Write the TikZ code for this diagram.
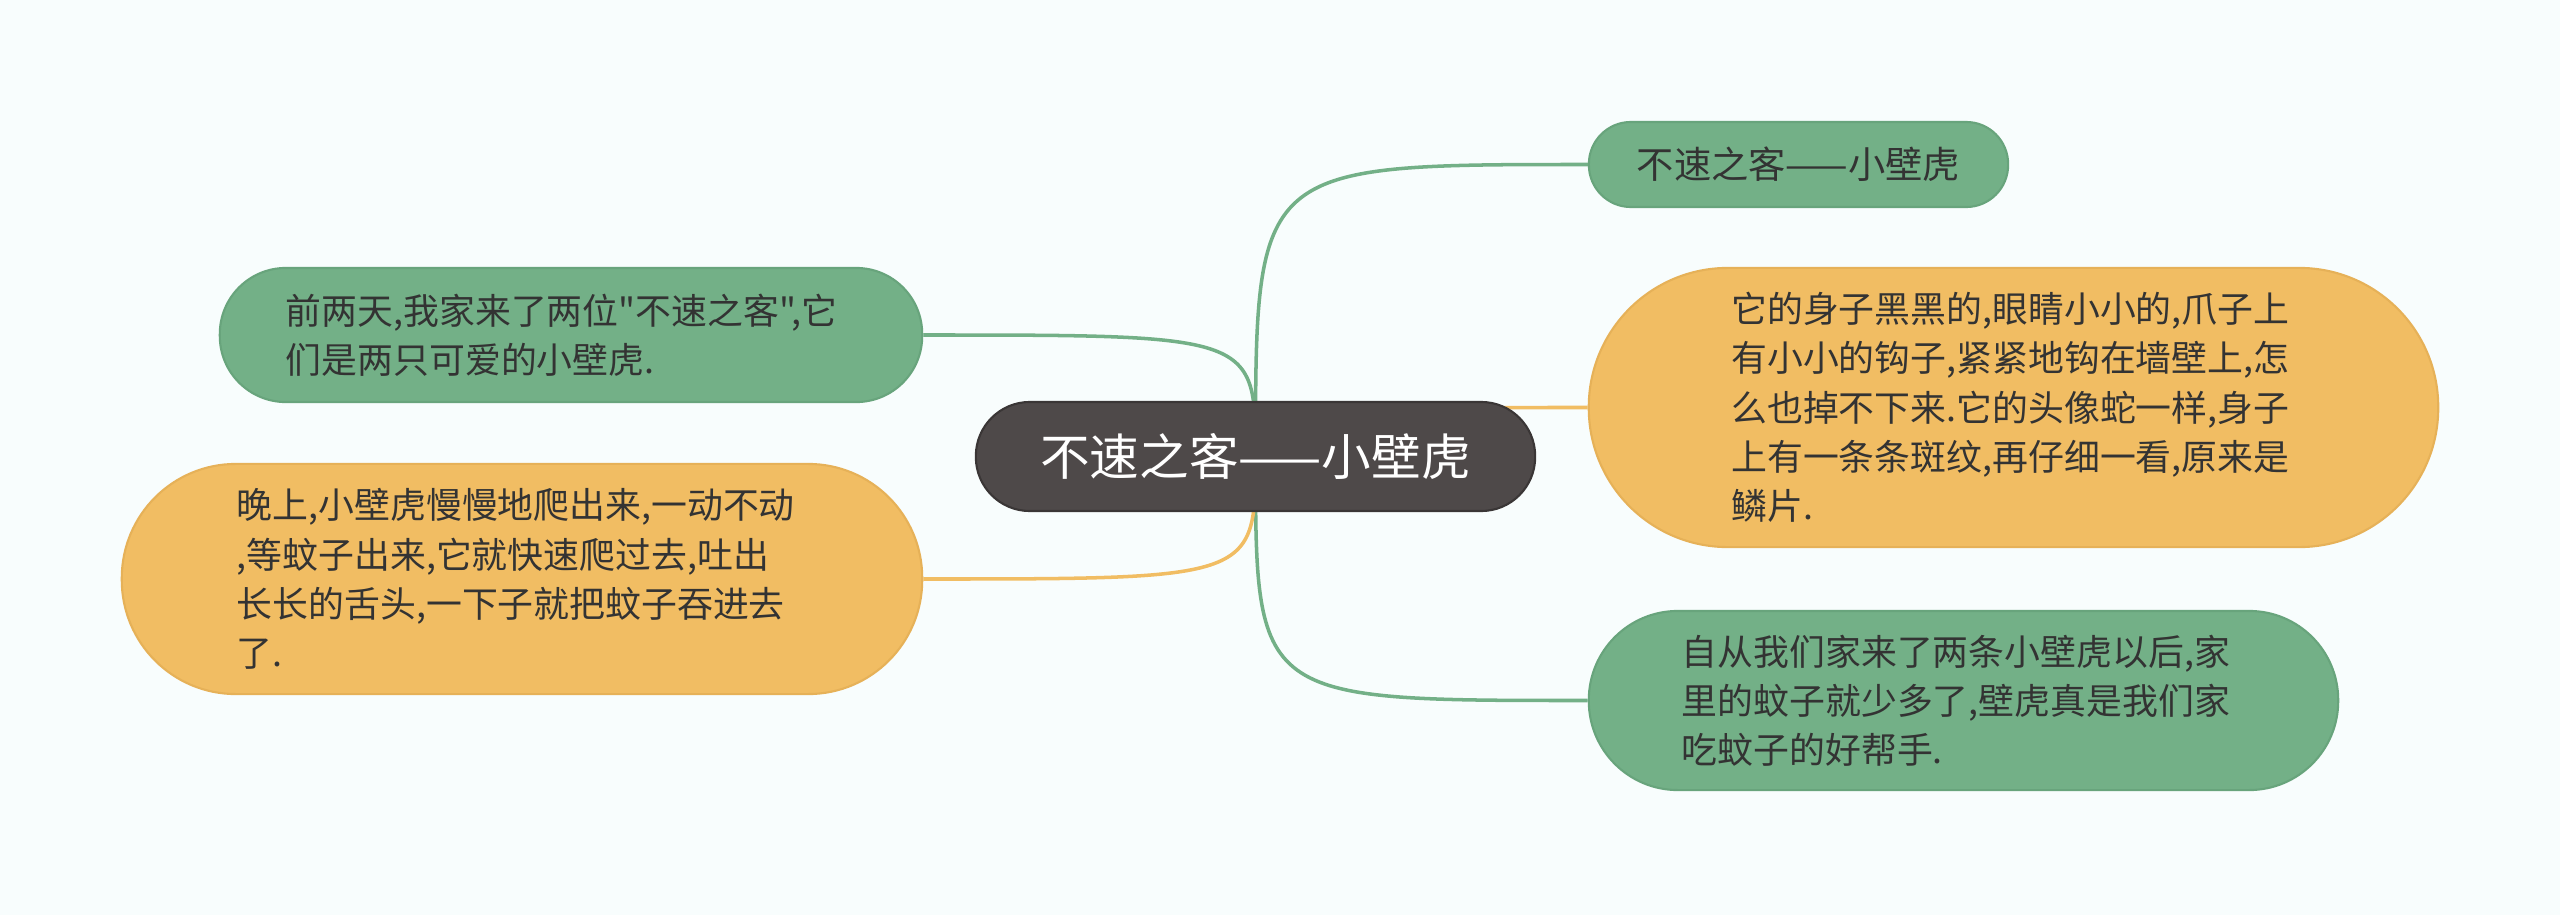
\documentclass[tikz,border=0pt]{standalone}
\usepackage{fontspec}
\defaultfontfeatures{Ligatures=TeXOff}
\setmainfont{Noto Sans CJK SC}[Ligatures=TeXOff]
\usetikzlibrary{backgrounds}
\definecolor{bg}{HTML}{F8FDFD}
\definecolor{gfill}{HTML}{73B087}
\definecolor{gedge}{HTML}{68A47C}
\definecolor{ofill}{HTML}{F1BD63}
\definecolor{oedge}{HTML}{E6B158}
\definecolor{dfill}{HTML}{4E4949}
\definecolor{dedge}{HTML}{3A3636}
\definecolor{txt}{HTML}{333333}
\begin{document}
\begin{tikzpicture}[x=0.01cm,y=-0.01cm,
  basebox/.style={inner sep=0pt, align=left, text=txt,
     font=\fontsize{10.2pt}{14pt}\selectfont, line width=0.6pt},
  gbox/.style={basebox, fill=gfill, draw=gedge},
  obox/.style={basebox, fill=ofill, draw=oedge},
  rootbox/.style={inner sep=0pt, fill=dfill, draw=dedge, line width=0.6pt,
     text=white, font=\fontsize{14.1pt}{17pt}\selectfont,
     minimum width=5.59cm, minimum height=1.09cm, rounded corners=0.54cm},
  gline/.style={draw=gfill, line width=1pt},
  oline/.style={draw=ofill, line width=1pt}]
\begin{pgfonlayer}{background}
\fill[bg] (0,0) rectangle (2560,915);
\end{pgfonlayer}
\useasboundingbox (0,0) rectangle (2560,915);

\node[rootbox] (c) at (1255.5,456.5) {不速之客——小壁虎};

\node[gbox, minimum width=4.19cm, minimum height=0.85cm, rounded corners=0.42cm,
      font=\fontsize{10.6pt}{14pt}\selectfont] (t) at (1798.5,164.5) {不速之客——小壁虎};

\node[obox, minimum width=8.49cm, minimum height=2.79cm, rounded corners=1.39cm,
      text width=5.64cm] (r) at (2013.5,407.5)
 {它的身子黑黑的,眼睛小小的,爪子上\\有小小的钩子,紧紧地钩在墙壁上,怎\\么也掉不下来.它的头像蛇一样,身子\\上有一条条斑纹,再仔细一看,原来是\\鳞片.};

\node[gbox, minimum width=7.49cm, minimum height=1.79cm, rounded corners=0.89cm,
      text width=5.63cm] (br) at (1963.5,700.5)
 {自从我们家来了两条小壁虎以后,家\\里的蚊子就少多了,壁虎真是我们家\\吃蚊子的好帮手.};

\node[gbox, minimum width=7.02cm, minimum height=1.34cm, rounded corners=0.66cm,
      text width=5.70cm] (lt) at (571,335)
 {前两天,我家来了两位"不速之客",它\\们是两只可爱的小壁虎.};

\node[obox, minimum width=8.00cm, minimum height=2.30cm, rounded corners=1.14cm,
      text width=5.70cm] (lb) at (522,579)
 {晚上,小壁虎慢慢地爬出来,一动不动\\,等蚊子出来,它就快速爬过去,吐出\\长长的舌头,一下子就把蚊子吞进去\\了.};

\begin{pgfonlayer}{background}
\draw[gline] (c.center) .. controls (c.center |- t.west) .. (t.west);
\draw[oline] (c.center) .. controls (c.center |- r.west) .. (r.west);
\draw[gline] (c.center) .. controls (c.center |- br.west) .. (br.west);
\draw[gline] (c.center) .. controls (c.center |- lt.east) .. (lt.east);
\draw[oline] (c.center) .. controls (c.center |- lb.east) .. (lb.east);
\end{pgfonlayer}
\end{tikzpicture}
\end{document}
